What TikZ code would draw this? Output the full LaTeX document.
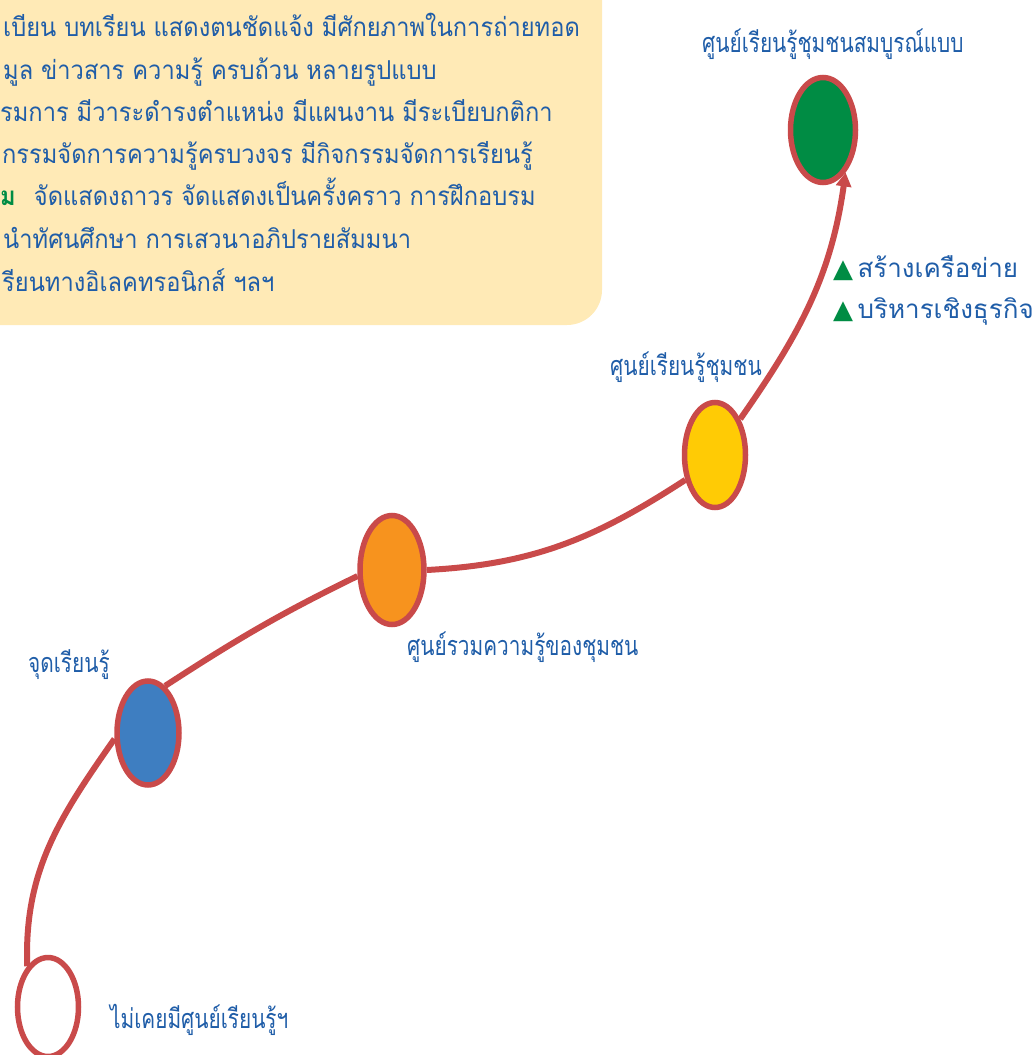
\documentclass[tikz,border=0pt]{standalone}
\usepackage{fontspec}
\newfontfamily\thaifont[Script=Thai]{Loma}
\newfontfamily\symfont{DejaVu Sans}
\usetikzlibrary{shapes.geometric,arrows.meta}
\definecolor{pathred}{HTML}{C94A4A}
\definecolor{textblue}{HTML}{1F5DA8}
\definecolor{boxyellow}{HTML}{FFEAB6}
\definecolor{stageblue}{HTML}{3E7EC1}
\definecolor{stageorange}{HTML}{F7931E}
\definecolor{stageyellow}{HTML}{FFCB05}
\definecolor{stagegreen}{HTML}{008C44}
\begin{document}
\begin{tikzpicture}[x=1pt,y=-1pt]
	\tikzstyle{Stage} = [ellipse, draw=pathred, line width=5.5pt, inner sep=0pt]
	\tikzstyle{Label} = [anchor=base west, inner sep=0pt, text=textblue, xscale=0.77, font=\thaifont\fontsize{27}{30}\selectfont]
	\tikzstyle{Point} = [anchor=base west, inner sep=0pt, text=textblue, font=\thaifont\fontsize{26}{30}\selectfont]
	\tikzstyle{Line} = [anchor=base west, inner sep=0pt, text=textblue, xscale=0.91, font=\thaifont\fontsize{26}{30}\selectfont]
	\tikzstyle{Road} = [pathred, line width=6pt]
	\useasboundingbox (0,0) rectangle (1033,1055);
	\fill[boxyellow, rounded corners=35] (-60,-60) rectangle (602,325);
	% box text
	\node (l1) at (3,36) [Line] {เบียน บทเรียน แสดงตนชัดแจ้ง มีศักยภาพในการถ่ายทอด};
	\node (l2) at (3,79) [Line] {มูล ข่าวสาร ความรู้ ครบถ้วน หลายรูปแบบ};
	\node (l3) at (0,121) [Line] {รมการ มีวาระดำรงตำแหน่ง มีแผนงาน มีระเบียบกติกา};
	\node (l4) at (2,163) [Line] {กรรมจัดการความรู้ครบวงจร มีกิจกรรมจัดการเรียนรู้};
	\node (l5) at (0,205) [Line] {{\bfseries\color{stagegreen}ม}\hspace{20pt}จัดแสดงถาวร จัดแสดงเป็นครั้งคราว การฝึกอบรม};
	\node (l6) at (3,248) [Line] {นำทัศนศึกษา การเสวนาอภิปรายสัมมนา};
	\node (l7) at (2,291) [Line] {รียนทางอิเลคทรอนิกส์ ฯลฯ};
	% stages
	\node (blank) at (48,1007) [Stage, fill=white, minimum width=61, minimum height=99] {};
	\node (blue) at (148,733) [Stage, fill=stageblue, minimum width=62, minimum height=104] {};
	\node (orange) at (392,570) [Stage, fill=stageorange, minimum width=64, minimum height=109] {};
	\node (yellow) at (715,455) [Stage, fill=stageyellow, minimum width=61, minimum height=105] {};
	\node (green) at (823,130) [Stage, fill=stagegreen, minimum width=65, minimum height=105] {};
	\draw[Road] (blank.117) to[out=92,in=235] (blue.190);
	\draw[Road] (blue.70) to[out=33,in=206] (orange.190);
	\draw[Road] (orange.0) to[out=3,in=213] (yellow.220);
	\draw[Road, -{Triangle[length=14pt,width=15pt]}] (yellow.55) to[out=55,in=262] (green.298);
	% labels
	\node (tgreen) at (702,52) [Label] {ศูนย์เรียนรู้ชุมชนสมบูรณ์แบบ};
	\node (net) at (833,277) [Point] {{\symfont\color{stagegreen}▲}\,สร้างเครือข่าย};
	\node (biz) at (833,318) [Point] {{\symfont\color{stagegreen}▲}\,บริหารเชิงธุรกิจ};
	\node (tyellow) at (610,375) [Label] {ศูนย์เรียนรู้ชุมชน};
	\node (torange) at (407,655) [Label] {ศูนย์รวมความรู้ของชุมชน};
	\node (tblue) at (28,672) [Label] {จุดเรียนรู้};
	\node (tblank) at (110,1028) [Label] {ไม่เคยมีศูนย์เรียนรู้ฯ};
\end{tikzpicture}
\end{document}
